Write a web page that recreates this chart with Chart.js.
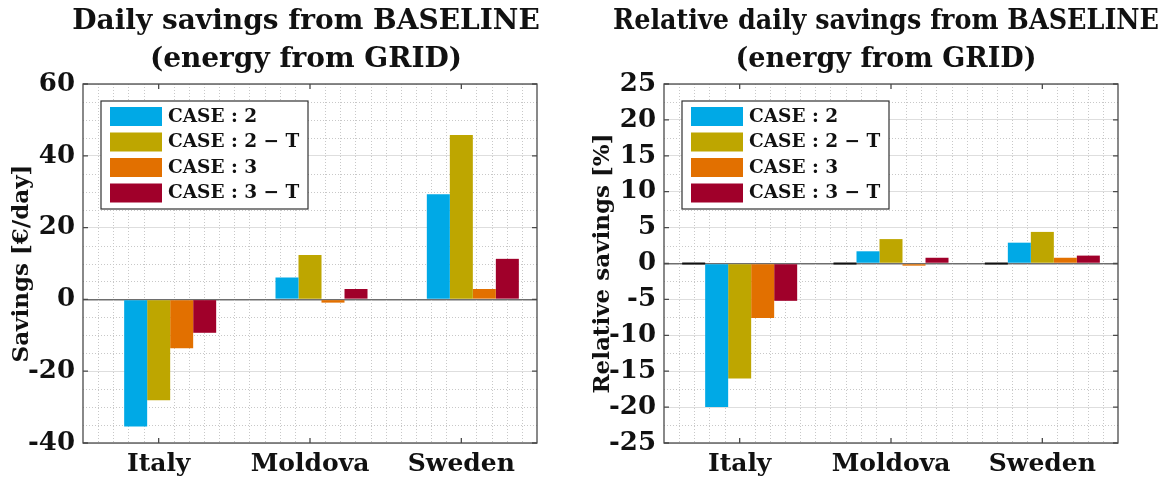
<!DOCTYPE html>
<html>
<head>
<meta charset="utf-8">
<script src="https://cdn.jsdelivr.net/npm/chart.js@4/dist/chart.umd.min.js"></script>
<style>
  body { margin: 0; background: #fff; width: 1168px; height: 481px; position: relative; overflow: hidden; }
  .chart-box { position: absolute; top: 0; height: 481px; }
</style>
</head>
<body>
<div class="chart-box" style="left:0;width:548px"><canvas id="absChart"></canvas></div>
<div class="chart-box" style="left:581px;width:587px"><canvas id="relChart"></canvas></div>
<script>
// categories and series
var countries = ['Italy', 'Moldova', 'Sweden'];
var caseLabels = ['CASE : 2', 'CASE : 2 \u2212 T', 'CASE : 3', 'CASE : 3 \u2212 T'];
var baseline = [0, 0, 0];

var savingsCase2  = [-35.4, 6.1, 29.3];
var savingsCase2T = [-28.1, 12.4, 45.8];
var savingsCase3  = [-13.6, -0.9, 2.9];
var savingsCase3T = [-9.3, 2.9, 11.3];

var relCase2  = [-20.0, 1.7, 2.9];
var relCase2T = [-16.0, 3.4, 4.4];
var relCase3  = [-7.6, -0.3, 0.8];
var relCase3T = [-5.2, 0.8, 1.1];

var savingsTicks = [-40, -20, 0, 20, 40, 60];
var relTicks = [-25, -20, -15, -10, -5, 0, 5, 10, 15, 20, 25];

var caseColors = ['#00a9e6', '#bea600', '#e27000', '#a0002a'];
var serif = '"DejaVu Serif", "Liberation Serif", serif';

// MATLAB-like frame: minor dotted grid, box, inward ticks, legend with border, title
var matlabFrame = {
  id: 'matlabFrame',
  beforeDatasetsDraw: function(chart, args, opts) {
    var ctx = chart.ctx, a = chart.chartArea;
    var xs = chart.scales.x, ys = chart.scales.y;
    ctx.save();
    ctx.strokeStyle = '#c8c8c8';
    ctx.lineWidth = 1;
    ctx.setLineDash([1, 2]);
    // horizontal minor lines
    for (var v = ys.min; v <= ys.max + 1e-9; v += opts.minorStep) {
      if (Math.abs(v / opts.majorStep - Math.round(v / opts.majorStep)) < 1e-6) continue;
      var y = Math.round(ys.getPixelForValue(v)) + 0.5;
      ctx.beginPath(); ctx.moveTo(a.left, y); ctx.lineTo(a.right, y); ctx.stroke();
    }
    // vertical minor lines
    for (var i = 1; i < countries.length * 10; i++) {
      if (i % 10 === 5) continue;
      var x = Math.round(xs.getPixelForValue(-0.5 + i * 0.1)) + 0.5;
      ctx.beginPath(); ctx.moveTo(x, a.top); ctx.lineTo(x, a.bottom); ctx.stroke();
    }
    ctx.restore();
  },
  afterDatasetsDraw: function(chart, args, opts) {
    var ctx = chart.ctx, a = chart.chartArea;
    var xs = chart.scales.x, ys = chart.scales.y;
    ctx.save();
    // black edge of the zero-height baseline bars
    if (opts.baselineEdge) {
      ctx.strokeStyle = '#111';
      ctx.lineWidth = 2;
      chart.getDatasetMeta(0).data.forEach(function(bar) {
        ctx.beginPath();
        ctx.moveTo(bar.x - bar.width / 2, bar.y);
        ctx.lineTo(bar.x + bar.width / 2, bar.y);
        ctx.stroke();
      });
    }
    // box
    ctx.strokeStyle = '#4a4a4a';
    ctx.lineWidth = 1.3;
    ctx.strokeRect(a.left, a.top, a.right - a.left, a.bottom - a.top);
    // inward ticks
    ys.ticks.forEach(function(t) {
      var y = ys.getPixelForValue(t.value);
      ctx.beginPath();
      ctx.moveTo(a.left, y); ctx.lineTo(a.left + 5, y);
      ctx.moveTo(a.right, y); ctx.lineTo(a.right - 5, y);
      ctx.stroke();
    });
    countries.forEach(function(c, i) {
      var x = xs.getPixelForValue(i);
      ctx.beginPath();
      ctx.moveTo(x, a.bottom); ctx.lineTo(x, a.bottom - 5);
      ctx.moveTo(x, a.top); ctx.lineTo(x, a.top + 5);
      ctx.stroke();
    });
    // legend
    var bx = a.left + 18, by = a.top + 17, bw = 207, bh = 108;
    ctx.fillStyle = '#fff';
    ctx.fillRect(bx, by, bw, bh);
    ctx.strokeStyle = '#333';
    ctx.lineWidth = 1.2;
    ctx.strokeRect(bx, by, bw, bh);
    ctx.font = 'bold 18.5px ' + serif;
    ctx.textBaseline = 'middle';
    chart.data.datasets.slice(1).forEach(function(ds, i) {
      var ry = by + 6 + i * 25.5;
      ctx.fillStyle = ds.backgroundColor;
      ctx.fillRect(bx + 9, ry, 52, 19);
      ctx.fillStyle = '#111';
      ctx.fillText(ds.label, bx + 67, ry + 10);
    });
    // title, centred over the axes like MATLAB
    ctx.font = 'bold ' + opts.titleSize + 'px ' + serif;
    ctx.textAlign = 'center';
    ctx.fillStyle = '#111';
    var cx = (a.left + a.right) / 2 + opts.titleShift;
    opts.title.forEach(function(line, i) {
      ctx.fillText(line, cx, 22 + i * 38, opts.titleMaxWidth);
    });
    ctx.restore();
  }
};

function makeChart(id, series, ticks, yTitle, titleLines, frame, padRight) {
  var datasets = [{ label: 'BASELINE', data: baseline, backgroundColor: '#111' }];
  series.forEach(function(s, i) {
    datasets.push({ label: caseLabels[i], data: s, backgroundColor: caseColors[i] });
  });
  frame.title = titleLines;
  return new Chart(document.getElementById(id), {
    type: 'bar',
    data: { labels: countries, datasets: datasets },
    options: {
      animation: false,
      responsive: true,
      maintainAspectRatio: false,
      layout: { padding: { left: 0, right: padRight, top: 84, bottom: 0 } },
      datasets: { bar: { categoryPercentage: 0.76, barPercentage: 1.0, borderWidth: 0 } },
      plugins: {
        legend: { display: false },
        tooltip: { enabled: false },
        title: { display: false },
        matlabFrame: frame
      },
      scales: {
        x: {
          grid: { display: false, drawTicks: false },
          border: { display: false },
          ticks: { color: '#111', padding: 6, font: { family: serif, size: 25, weight: 'bold' } },
          afterFit: function(s) { s.height = 38; }
        },
        y: {
          min: ticks[0],
          max: ticks[ticks.length - 1],
          afterBuildTicks: function(s) { s.ticks = ticks.map(function(v) { return { value: v }; }); },
          grid: {
            drawTicks: false,
            color: function(c) { return c.tick && c.tick.value === 0 ? '#6e6e6e' : '#dedede'; },
            lineWidth: function(c) { return c.tick && c.tick.value === 0 ? 1.5 : 1; }
          },
          border: { display: false },
          ticks: { color: '#111', padding: 8, font: { family: serif, size: 26, weight: 'bold' } },
          title: {
            display: true,
            text: yTitle,
            color: '#111',
            font: { family: serif, size: 23, weight: 'bold', lineHeight: 1.2 },
            padding: { top: 8, bottom: 0 }
          },
          afterFit: function(s) { s.width = 83; }
        }
      }
    },
    plugins: [matlabFrame]
  });
}

makeChart('absChart',
  [savingsCase2, savingsCase2T, savingsCase3, savingsCase3T],
  savingsTicks, 'Savings [\u20ac/day]',
  ['Daily savings from BASELINE', '(energy from GRID)'],
  { minorStep: 5, majorStep: 20, baselineEdge: false, titleSize: 28, titleShift: -4, titleMaxWidth: 600 }, 11);

makeChart('relChart',
  [relCase2, relCase2T, relCase3, relCase3T],
  relTicks, 'Relative savings [%]',
  ['Relative daily savings from BASELINE', '(energy from GRID)'],
  { minorStep: 2.5, majorStep: 5, baselineEdge: true, titleSize: 27, titleShift: -5, titleMaxWidth: 546 }, 50);
</script>
</body>
</html>
